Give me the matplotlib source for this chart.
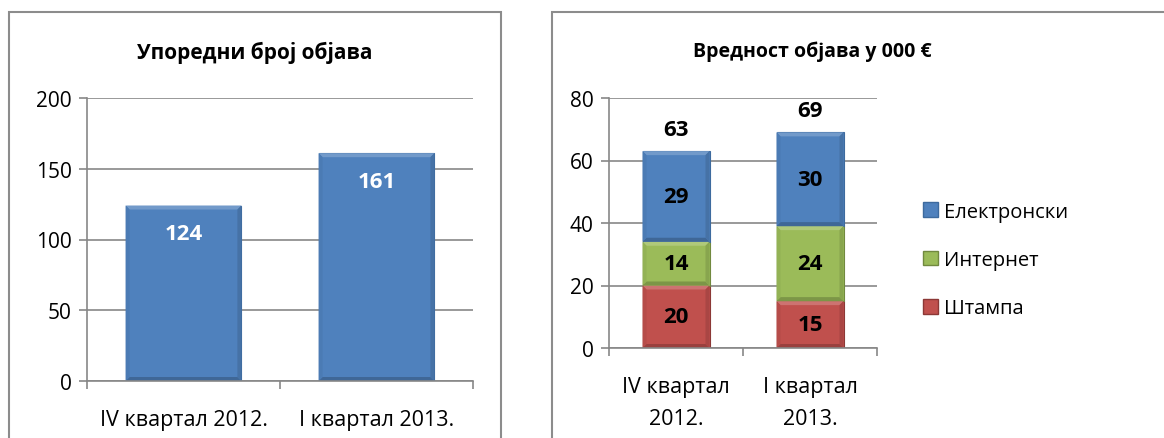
import numpy as np
import matplotlib.pyplot as plt
import matplotlib.colors as mcolors
from matplotlib.patches import Rectangle, Patch, Polygon

plt.rcParams['font.family'] = ['Open Sans', 'DejaVu Sans']

# left chart
quarters_left = ["IV квартал 2012.", "I квартал 2013."]
counts = [124, 161]

# right chart
quarters_right = ["IV квартал\n2012.", "I квартал\n2013."]
shtampa = [20, 15]
internet = [14, 24]
elektronski = [29, 30]
totals = [63, 69]

blue = '#4F81BD'
green = '#9BBB59'
red = '#C0504D'
grid_col = '#878787'

fig = plt.figure(figsize=(11.64, 4.39), dpi=100)
W, H = 1164, 439

# panel borders
for x0, x1 in [(9, 501), (552, 1170)]:
    fig.patches.append(Rectangle((x0 / W, -0.05), (x1 - x0) / W, 1 - 13 / H + 0.05,
                                 transform=fig.transFigure, fill=False,
                                 edgecolor='#8c8c8c', lw=1.5))


def shade(color, f):
    c = np.array(mcolors.to_rgb(color))
    if f > 0:
        return tuple(c + (1 - c) * f)
    return tuple(c * (1 + f))


def style_axes(ax, ymax, step):
    ax.set_xlim(-0.5, 1.5)
    ax.set_ylim(0, ymax)
    ax.set_yticks(np.arange(0, ymax + 1, step))
    ax.yaxis.grid(True, color=grid_col, lw=1.2)
    ax.set_axisbelow(True)
    for s in ['top', 'right']:
        ax.spines[s].set_visible(False)
    for s in ['left', 'bottom']:
        ax.spines[s].set_color(grid_col)
        ax.spines[s].set_linewidth(1.2)
    ax.set_xticks([0, 1])
    ax.set_xticks([-0.5, 0.5, 1.5], minor=True)
    ax.tick_params(axis='x', which='major', length=0, pad=20, labelsize=15.5)
    ax.tick_params(axis='x', which='minor', length=6, color=grid_col, width=1.2)
    ax.tick_params(axis='y', length=6, color=grid_col, width=1.2, labelsize=15, pad=5)


def bevel(ax, bars, color, b=4):
    # soft bevelled edges like the Office chart style
    inv = ax.transData.inverted()
    for p in bars:
        (X0, Y0) = ax.transData.transform((p.get_x(), p.get_y()))
        (X1, Y1) = ax.transData.transform((p.get_x() + p.get_width(), p.get_y() + p.get_height()))
        parts = [
            ([(X0, Y1), (X1, Y1), (X1 - b, Y1 - b), (X0 + b, Y1 - b)], shade(color, 0.2)),
            ([(X0, Y0), (X1, Y0), (X1 - b, Y0 + b), (X0 + b, Y0 + b)], shade(color, -0.2)),
            ([(X0, Y0), (X0 + b, Y0 + b), (X0 + b, Y1 - b), (X0, Y1)], shade(color, -0.05)),
            ([(X1, Y0), (X1 - b, Y0 + b), (X1 - b, Y1 - b), (X1, Y1)], shade(color, -0.12)),
        ]
        for pts, c in parts:
            ax.add_patch(Polygon(inv.transform(pts), closed=True, facecolor=c,
                                 edgecolor='none', zorder=2.1))


# left
ax1 = fig.add_axes([87 / W, 1 - 382 / H, (473 - 87) / W, (382 - 99) / H])
style_axes(ax1, 200, 50)
bars = ax1.bar(range(2), counts, width=0.6, color=blue, edgecolor='#3d6a9e', lw=0.8)
bevel(ax1, bars, blue)
for i, v in enumerate(counts):
    ax1.text(i, v - 20, str(v), ha='center', va='center', color='white',
             fontsize=16, fontweight='bold', zorder=3)
ax1.set_xticklabels(quarters_left)
ax1.set_title("Упоредни број објава", fontsize=15, fontweight='bold', pad=29,
              x=(255 - 87) / (473 - 87))

# right
ax2 = fig.add_axes([609 / W, 1 - 349 / H, (877 - 609) / W, (349 - 99) / H])
style_axes(ax2, 80, 20)
x = np.arange(2)
r = ax2.bar(x, shtampa, width=0.5, color=red, edgecolor='#8c3836', lw=0.8, label='Штампа')
g = ax2.bar(x, internet, width=0.5, bottom=shtampa, color=green, edgecolor='#71893f',
            lw=0.8, label='Интернет')
bottom3 = np.array(shtampa) + np.array(internet)
bl = ax2.bar(x, elektronski, width=0.5, bottom=bottom3, color=blue, edgecolor='#3d6a9e',
             lw=0.8, label='Електронски')
bevel(ax2, r, red)
bevel(ax2, g, green)
bevel(ax2, bl, blue)
for i in range(2):
    ax2.text(i, shtampa[i] / 2, str(shtampa[i]), ha='center', va='center',
             fontsize=16, fontweight='bold', zorder=3)
    ax2.text(i, shtampa[i] + internet[i] / 2, str(internet[i]), ha='center', va='center',
             fontsize=16, fontweight='bold', zorder=3)
    ax2.text(i, bottom3[i] + elektronski[i] / 2, str(elektronski[i]), ha='center',
             va='center', fontsize=16, fontweight='bold', zorder=3)
    ax2.text(i, totals[i] + 7, str(totals[i]), ha='center', va='center',
             fontsize=16, fontweight='bold')
ax2.set_xticklabels(quarters_right, linespacing=1.7)
ax2.tick_params(axis='x', which='major', pad=20)
ax2.set_title("Вредност објава у 000 €", fontsize=14, fontweight='bold', pad=30,
              x=(812 - 609) / (877 - 609))

handles = [Patch(facecolor=blue, edgecolor='#3d6a9e'),
           Patch(facecolor=green, edgecolor='#71893f'),
           Patch(facecolor=red, edgecolor='#8c3836')]
fig.legend(handles, ['Електронски', 'Интернет', 'Штампа'],
           loc='center left', bbox_to_anchor=(905 / W, 1 - 261 / H), frameon=False,
           fontsize=14.5, handlelength=0.75, handleheight=0.75, handletextpad=0.3,
           labelspacing=1.4)

fig.savefig('out.png', dpi=100)
